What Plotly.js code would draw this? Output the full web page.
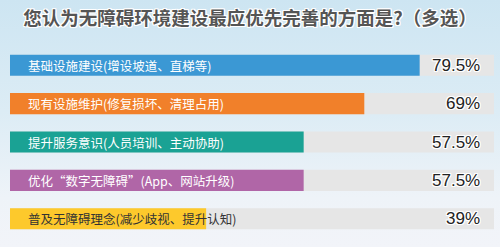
<!DOCTYPE html>
<html>
<head>
<meta charset="utf-8">
<script src="https://cdn.plot.ly/plotly-3.0.1.min.js"></script>
<style>
html,body{margin:0;padding:0;width:500px;height:247px;overflow:hidden;
background:linear-gradient(to bottom,#cde5f2 0%,#dcecf5 45%,#eef3f8 80%,#f2f4f9 100%);}
#chart{width:500px;height:247px;}
</style>
</head>
<body>
<div id="chart"></div>
<script>
const categories = [
  "基础设施建设(增设坡道、直梯等)",
  "现有设施维护(修复损坏、清理占用)",
  "提升服务意识(人员培训、主动协助)",
  "优化“数字无障碍”(App、网站升级)",
  "普及无障碍理念(减少歧视、提升认知)"
];
const values = [79.5, 69, 57.5, 57.5, 39];
const valueLabels = ["79.5%", "69%", "57.5%", "57.5%", "39%"];
const barColors = ["#3b98d4", "#f1802a", "#1aa294", "#b066a7", "#fdc92c"];
const labelColors = ["#ffffff", "#ffffff", "#ffffff", "#ffffff", "#333333"];

const xMin = 1.8, xMax = 93.6;
const yIdx = categories.map((c, i) => i);

const track = {
  type: "bar", orientation: "h",
  y: yIdx, x: yIdx.map(() => xMax), base: 0,
  marker: {color: "#e6e6e6"}, hoverinfo: "skip", showlegend: false
};
const bars = {
  type: "bar", orientation: "h",
  y: yIdx, x: values, base: 0,
  marker: {color: barColors}, hoverinfo: "skip", showlegend: false
};

const shadow = "1px 1px 0 #fff, -1px -1px 0 #fff, 1px -1px 0 #fff, -1px 1px 0 #fff, 0 1px 0 #fff, 0 -1px 0 #fff, 1px 0 0 #fff, -1px 0 0 #fff";

const annotations = [];
categories.forEach((c, i) => {
  annotations.push({
    xref: "paper", x: 0, xshift: 16, y: i, yref: "y",
    text: c, showarrow: false, xanchor: "left", yanchor: "middle",
    font: {family: "Noto Sans CJK SC", size: 12.5, color: labelColors[i]}
  });
  annotations.push({
    xref: "paper", x: 1, xshift: -12, y: i, yref: "y",
    text: valueLabels[i], showarrow: false, xanchor: "right", yanchor: "middle",
    font: {family: "Liberation Sans, Arial, sans-serif", size: 17, color: "#222", shadow: shadow}
  });
});

const layout = {
  width: 500, height: 247,
  margin: {l: 10, r: 6, t: 46, b: 9, pad: 0},
  paper_bgcolor: "rgba(0,0,0,0)", plot_bgcolor: "rgba(0,0,0,0)",
  barmode: "overlay", bargap: 0.45,
  title: {
    text: "您认为无障碍环境建设最应优先完善的方面是?（多选）",
    x: 0.496, xanchor: "center", xref: "paper",
    y: 1 - 19/247, yanchor: "middle", yref: "container",
    font: {family: "Noto Sans CJK SC", size: 18.5, color: "#555", weight: 700, shadow: shadow}
  },
  xaxis: {range: [xMin, xMax], visible: false, fixedrange: true},
  yaxis: {range: [4.5, -0.5], visible: false, fixedrange: true},
  annotations: annotations,
  showlegend: false
};

Plotly.newPlot("chart", [track, bars], layout, {displayModeBar: false, staticPlot: true});
</script>
</body>
</html>
